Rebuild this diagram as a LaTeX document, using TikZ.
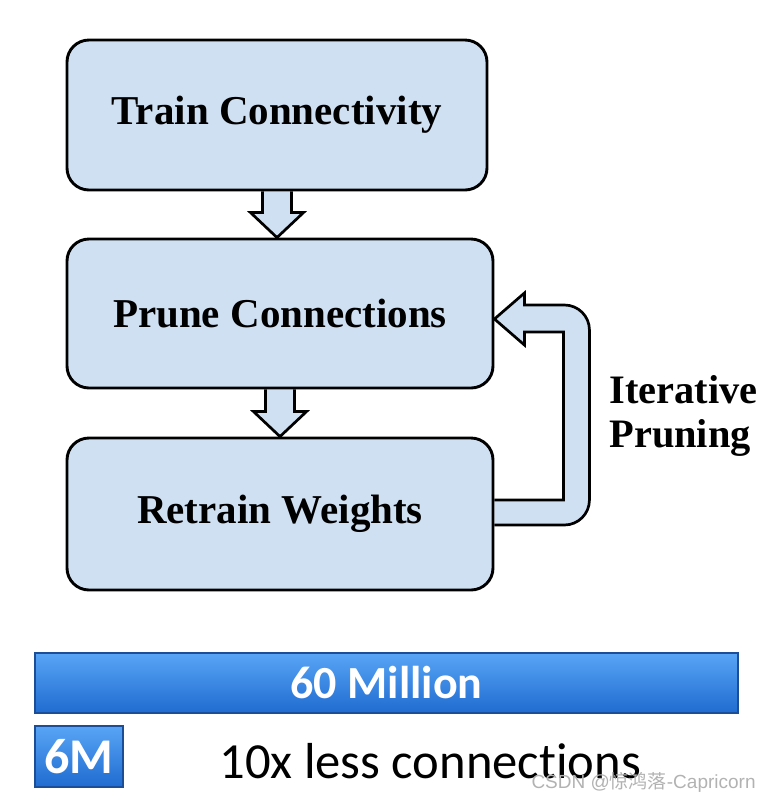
\documentclass[tikz,border=0pt]{standalone}
\usepackage{fontspec}
\setmainfont{Liberation Serif}
\newfontfamily\calibfont[Ligatures=NoCommon]{Carlito}
\newfontfamily\wmfont{Liberation Sans}
\newfontfamily\cjk{Noto Sans CJK SC}
\usetikzlibrary{calc,backgrounds}
\definecolor{boxblue}{HTML}{CFE0F3}
\definecolor{bartop}{HTML}{58A5F6}
\definecolor{barbot}{HTML}{1F6BD0}
\definecolor{baredge}{HTML}{1B4E96}
\tikzset{
  stepbox/.style={draw, line width=1.45pt, fill=boxblue, rounded corners=11pt, inner sep=0pt,
    font=\fontsize{20.5}{24}\selectfont\bfseries},
  blockarrow/.style={draw, line width=1.35pt, fill=boxblue, line join=miter},
  countbar/.style={draw=baredge, line width=0.6pt, top color=bartop, bottom color=barbot,
    text=white, inner sep=0pt}
}

\begin{document}
\begin{tikzpicture}[x=0.5pt, y=-0.5pt]
  \useasboundingbox (0,0) rectangle (770,800);

  % the three steps
  \node[stepbox, minimum width=210pt, minimum height=75pt] (train) at (277,115) {Train Connectivity};
  \node[stepbox, minimum width=213pt, minimum height=74.5pt] (prune) at (280,313.5) {Prune Connections};
  \node[stepbox, minimum width=213pt, minimum height=76pt] (retrain) at (280,514) {Retrain Weights};

  \begin{scope}[on background layer]
    % block arrows between the steps
    \foreach \a/\b in {train/prune, prune/retrain} {
      \coordinate (tip) at (\a.south |- \b.north);
      \draw[blockarrow] ($(\a.south)+(-14.5,0)$) -- ($(tip)+(-14.5,-25)$) -- ($(tip)+(-26.5,-25)$)
        -- (tip) -- ($(tip)+(26.5,-25)$) -- ($(tip)+(14.5,-25)$) -- ($(\a.south)+(14.5,0)$);
    }

    % feedback loop
    \draw[blockarrow] ($(retrain.east)+(0,-14)$) -- ($(retrain.east)+(69,-14)$)
      -- ($(prune.east)+(69,18.5)$) -- ($(prune.east)+(30,18.5)$) -- ($(prune.east)+(30,31.5)$)
      -- ($(prune.east)+(0,5.5)$)
      -- ($(prune.east)+(30,-20.5)$) -- ($(prune.east)+(30,-8.5)$) -- ($(prune.east)+(70,-8.5)$)
      .. controls ($(prune.east)+(83.8,-8.5)$) and ($(prune.east)+(95,2.7)$) .. ($(prune.east)+(95,16.5)$)
      -- ($(retrain.east)+(95,-14)$)
      .. controls ($(retrain.east)+(95,-0.2)$) and ($(retrain.east)+(83.8,11)$) .. ($(retrain.east)+(70,11)$)
      -- ($(retrain.east)+(0,11)$);
  \end{scope}

  \node[anchor=west, align=left, inner sep=0pt, font=\fontsize{20.2}{22}\selectfont\bfseries] (iter) at (609,416) {Iterative\\Pruning};

  % connection counts
  \node[countbar, minimum width=351.5pt, minimum height=30pt, font=\calibfont\fontsize{23}{26}\selectfont\bfseries] (full) at (386.5,683) {60 Million};
  \node[countbar, minimum width=44pt, minimum height=30.5pt, font=\calibfont\fontsize{25}{28}\selectfont\bfseries] (pruned) at (79,756.5) {6M};
  \node[anchor=base west, inner sep=0pt, font=\calibfont\fontsize{25.3}{28}\selectfont] (less) at (219,778) {10x less connections};

  \node[anchor=base east, inner sep=0pt, text=gray!60, font=\wmfont\fontsize{9.5}{11}\selectfont] (mark) at (756,788) {CSDN @{\cjk 惊鸿落}-Capricorn};
\end{tikzpicture}
\end{document}
